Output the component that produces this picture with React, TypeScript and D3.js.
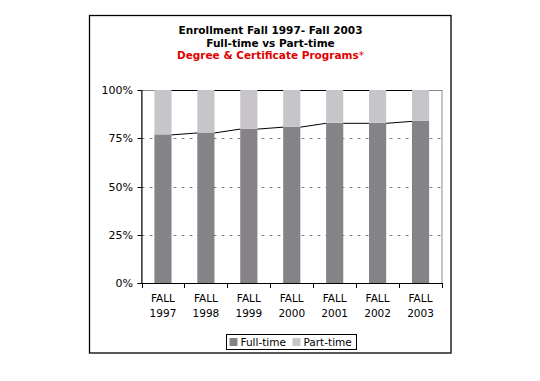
import React from "react";
import * as d3 from "d3";

const categories = ["1997", "1998", "1999", "2000", "2001", "2002", "2003"];
const fullTime = [77, 78, 80, 81, 83, 83, 84];
const partTime = fullTime.map((v) => 100 - v);
const yTicks = [0, 25, 50, 75, 100];
const seriesNames = ["Full-time", "Part-time"];
const colors = ["#858387", "#c7c5c9"];

const W = 540;
const H = 381;
const plot = { left: 141.5, right: 442, top: 90, bottom: 283 };
const FONT = "'DejaVu Sans', Verdana, sans-serif";

export default function App() {
  const x = d3
    .scaleBand<string>()
    .domain(categories)
    .range([plot.left, plot.right])
    .paddingInner(0.6)
    .paddingOuter(0.3);
  const y = d3.scaleLinear().domain([0, 100]).range([plot.bottom, plot.top]);
  const step = x.step();
  const bw = x.bandwidth();

  const stacked = d3
    .stack<any>()
    .keys(["full", "part"])(categories.map((c, i) => ({ cat: c, full: fullTime[i], part: partTime[i] })));

  return (
    <svg width={W} height={H} style={{ position: "absolute", left: 0, top: 0 }} fontFamily={FONT}>
      <rect x={0} y={0} width={W} height={H} fill="#fff" />
      <rect x={89.5} y={15.5} width={361.5} height={337.5} fill="#fff" stroke="#000" strokeWidth={1.3} />
      <text x={270.5} y={34} textAnchor="middle" fontSize={10.5} fontWeight="bold" fill="#000">
        Enrollment Fall 1997- Fall 2003
      </text>
      <text x={270.5} y={46.7} textAnchor="middle" fontSize={10.5} fontWeight="bold" fill="#000">
        Full-time vs Part-time
      </text>
      <text x={270.5} y={59.3} textAnchor="middle" fontSize={10.5} fontWeight="bold" fill="#e00000">
        Degree &amp; Certificate Programs<tspan fontWeight="normal">*</tspan>
      </text>

      {/* plot border (gray) */}
      <rect
        x={plot.left}
        y={plot.top + 0.5}
        width={plot.right - plot.left}
        height={plot.bottom - plot.top}
        fill="none"
        stroke="#8a8a8a"
        strokeWidth={1}
      />
      {/* gridlines */}
      {yTicks
        .filter((t) => t > 0 && t < 100)
        .map((t) => (
          <line
            key={t}
            x1={plot.left}
            x2={plot.right}
            y1={Math.round(y(t)) + 0.5}
            y2={Math.round(y(t)) + 0.5}
            stroke="#808080"
            strokeDasharray="3,5"
          />
        ))}

      {/* bars */}
      {stacked.map((s, si) =>
        s.map((d, i) => (
          <rect
            key={si + "-" + i}
            x={x(categories[i])}
            y={y(d[1])}
            width={bw}
            height={y(d[0]) - y(d[1])}
            fill={colors[si]}
          />
        ))
      )}

      {/* series lines */}
      {stacked.map((s, si) =>
        s.slice(0, -1).map((d, i) => (
          <line
            key={"sl" + si + "-" + i}
            x1={(x(categories[i]) as number) + bw}
            x2={x(categories[i + 1]) as number}
            y1={y(d[1]) + 0.5}
            y2={y(s[i + 1][1]) + 0.5}
            stroke="#000"
            strokeWidth={1}
          />
        ))
      )}

      {/* y axis */}
      <line x1={plot.left + 0.5} x2={plot.left + 0.5} y1={plot.top} y2={plot.bottom + 1} stroke="#000" />
      {yTicks.map((t) => (
        <g key={"yt" + t}>
          <line
            x1={plot.left - 4}
            x2={plot.left}
            y1={Math.round(y(t)) + 0.5}
            y2={Math.round(y(t)) + 0.5}
            stroke="#000"
          />
          <text x={133} y={y(t) + 4} textAnchor="end" fontSize={11} fill="#000">
            {t}%
          </text>
        </g>
      ))}

      {/* x axis */}
      <line x1={plot.left} x2={plot.right} y1={plot.bottom + 0.5} y2={plot.bottom + 0.5} stroke="#000" />
      {d3.range(categories.length + 1).map((i) => (
        <line
          key={"xt" + i}
          x1={Math.round(plot.left + i * step) + 0.5}
          x2={Math.round(plot.left + i * step) + 0.5}
          y1={plot.bottom}
          y2={plot.bottom + 5}
          stroke="#000"
        />
      ))}
      {categories.map((c) => {
        const cx = (x(c) as number) + bw / 2;
        return (
          <g key={"xl" + c}>
            <text x={cx} y={302} textAnchor="middle" fontSize={10.5} fill="#000">
              FALL
            </text>
            <text x={cx} y={317} textAnchor="middle" fontSize={10.5} fill="#000">
              {c}
            </text>
          </g>
        );
      })}

      {/* legend */}
      <rect x={226.5} y={334.5} width={130} height={15} fill="#fff" stroke="#000" />
      {seriesNames.map((n, i) => {
        const lx = i === 0 ? 229.5 : 292.5;
        return (
          <g key={n}>
            <rect x={lx} y={338} width={8} height={8} fill={colors[i]} />
            <text x={lx + 11} y={345.5} fontSize={10.5} fill="#000">
              {n}
            </text>
          </g>
        );
      })}
    </svg>
  );
}
